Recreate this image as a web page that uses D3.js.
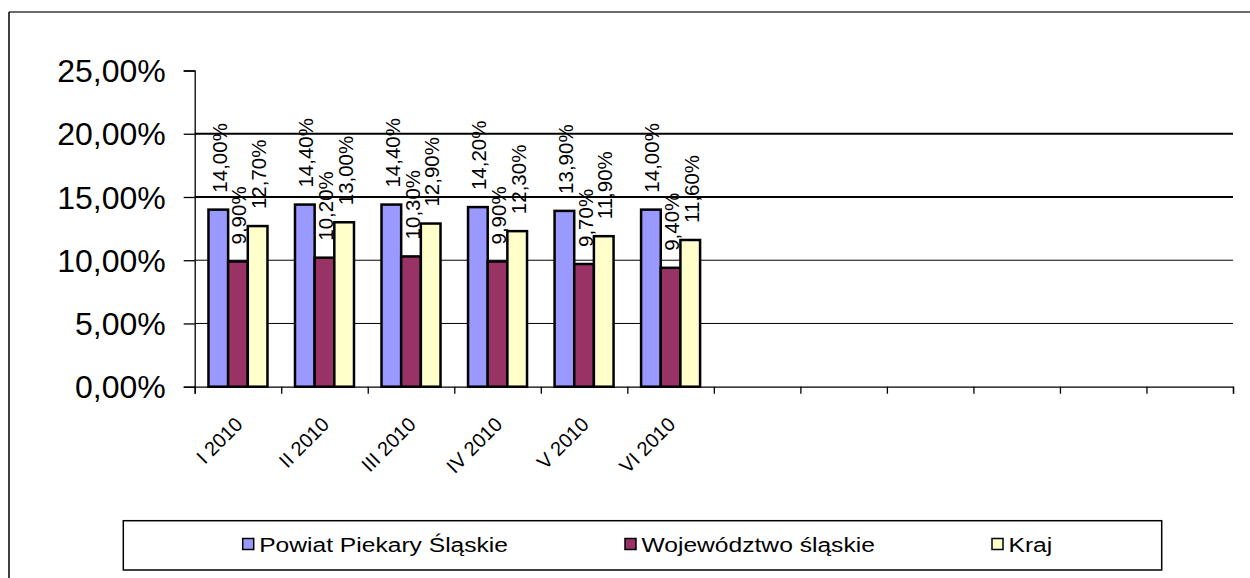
<!DOCTYPE html>
<html><head><meta charset="utf-8">
<script src="https://cdn.jsdelivr.net/npm/d3@7"></script>
<style>
body{margin:0;background:#fff}
svg{display:block}
text{font-family:"Liberation Sans",Arial,sans-serif;fill:#000}
</style>
</head><body>
<svg id="c" width="1250" height="578"></svg>
<script>
// ---- data ----
const categories = ["I 2010","II 2010","III 2010","IV 2010","V 2010","VI 2010"];
const slotCount = 12;
const seriesNames = ["Powiat Piekary Śląskie","Województwo śląskie","Kraj"];
const powiat = [14.0,14.4,14.4,14.2,13.9,14.0];
const wojewodztwo = [9.9,10.2,10.3,9.9,9.7,9.4];
const kraj = [12.7,13.0,12.9,12.3,11.9,11.6];
const yTicks = [0,5,10,15,20,25];
const seriesColors = ["#9999FF","#993366","#FFFFCC"];

(function(){
const seriesValues = [powiat, wojewodztwo, kraj];

const svg = d3.select("#c");
const pL = 194.7, pR = 1233, pT = 70.5, pB = 386.7;

// outer frame
svg.append("line").attr("x1",9).attr("x2",1250).attr("y1",12).attr("y2",12).attr("stroke","#3a3a3a").attr("stroke-width",1.5);
svg.append("line").attr("x1",9).attr("x2",9).attr("y1",12).attr("y2",578).attr("stroke","#000").attr("stroke-width",1.5);

const x = d3.scaleBand().domain(d3.range(slotCount)).range([pL,pR]).paddingInner(0).paddingOuter(0);
const xb = d3.scaleLinear().domain([0,slotCount]).range([pL,pR]);
const y = d3.scaleLinear().domain([0,25]).range([pB,pT]);
const groupW = 59;
const xs = d3.scaleBand().domain(d3.range(seriesNames.length)).range([0,groupW]);

const fmt = v => d3.format(".2f")(v).replace(".",",") + "%";

// gridlines
svg.append("g").selectAll("line").data(yTicks.filter(t=>t>0 && t<25)).join("line")
  .attr("x1",pL).attr("x2",pR)
  .attr("y1",d=>y(d)).attr("y2",d=>y(d))
  .attr("stroke","#000")
  .attr("stroke-width",d=> d>=15 ? 2.2 : 1);

// y axis
const ya = svg.append("g").attr("transform",`translate(${pL},0)`)
  .call(d3.axisLeft(y).tickValues(yTicks).tickSize(11).tickPadding(18).tickFormat(fmt));
ya.select(".domain").attr("stroke","#000").attr("stroke-width",1.3);
ya.selectAll(".tick line").attr("stroke","#000").attr("stroke-width",1.3);
ya.attr("font-family",null).attr("font-size",null);
ya.selectAll(".tick text").attr("font-size",32).attr("dy","0.35em");

// x axis (boundary ticks)
const xa = svg.append("g").attr("transform",`translate(0,${pB})`)
  .call(d3.axisBottom(xb).ticks(slotCount).tickSize(7).tickFormat(""));
xa.select(".domain").attr("stroke","#000").attr("stroke-width",1.3);
xa.selectAll(".tick line").attr("stroke","#000").attr("stroke-width",1.3);

// x labels
svg.append("g").selectAll("text").data(categories).join("text")
  .attr("text-anchor","end")
  .attr("font-size",20)
  .attr("transform",(d,i)=>`translate(${x(i)+x.bandwidth()/2+6},${pB+39}) rotate(-45)`)
  .text(d=>d);

// bars
const off = (x.bandwidth()-groupW)/2;
const groups = svg.append("g").selectAll("g").data(categories).join("g")
  .attr("transform",(d,i)=>`translate(${x(i)+off},0)`);
groups.selectAll("rect").data((d,i)=>seriesValues.map((s,k)=>({k,v:s[i]}))).join("rect")
  .attr("x",d=>xs(d.k)).attr("width",xs.bandwidth())
  .attr("y",d=>y(d.v)).attr("height",d=>pB-y(d.v))
  .attr("fill",d=>seriesColors[d.k]).attr("stroke","#000").attr("stroke-width",2.5);

// value labels
groups.selectAll("text").data((d,i)=>seriesValues.map((s,k)=>({k,v:s[i]}))).join("text")
  .attr("font-size",20.5)
  .attr("text-anchor","start")
  .attr("dominant-baseline","central")
  .attr("transform",d=>`translate(${xs(d.k)+xs.bandwidth()/2+1},${y(d.v)-17}) rotate(-90)`)
  .text(d=>fmt(d.v));

// legend
const lg = svg.append("g");
lg.append("rect").attr("x",123.3).attr("y",520.7).attr("width",1161.7-123.3).attr("height",570-520.7)
  .attr("fill","#fff").attr("stroke","#000").attr("stroke-width",1.5);
const legendX = [242.7, 625, 992];
const stretch = 1.23;
seriesNames.forEach((name,k)=>{
  lg.append("rect").attr("x",legendX[k]).attr("y",538.5).attr("width",11).attr("height",11)
    .attr("fill",seriesColors[k]).attr("stroke","#000").attr("stroke-width",1.5);
  const t = lg.append("text").attr("x",legendX[k]+16.5).attr("y",552).attr("font-size",20).text(name);
  const L = t.node().getComputedTextLength();
  t.attr("textLength",L*stretch).attr("lengthAdjust","spacingAndGlyphs");
});
})();
</script>
</body></html>
